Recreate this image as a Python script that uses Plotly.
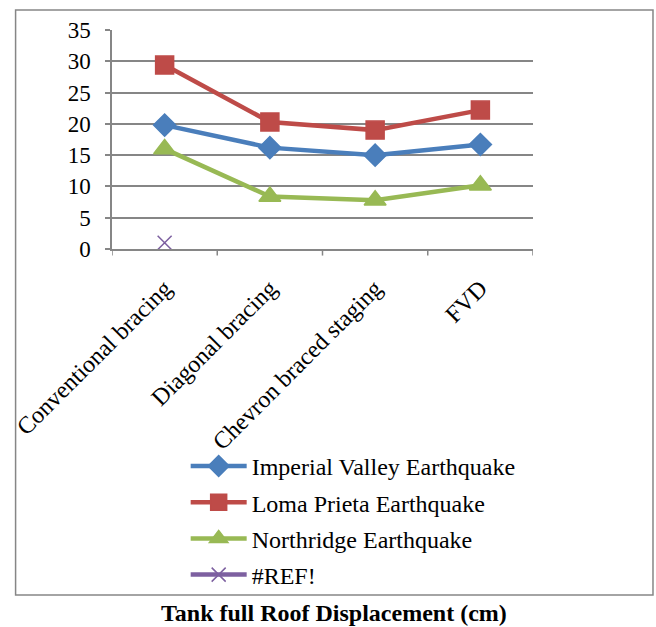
import plotly.graph_objects as go

categories = ["Conventional bracing", "Diagonal bracing", "Chevron braced staging", "FVD"]
imperial_valley = [19.8, 16.2, 15.0, 16.7]
loma_prieta = [29.4, 20.3, 19.0, 22.2]
northridge = [16.0, 8.4, 7.8, 10.2]
ref_series = [1.0, None, None, None]
y_ticks = [0, 5, 10, 15, 20, 25, 30, 35]

FONT = "Liberation Serif, Times New Roman, serif"
GRID = "#868686"

series = [
    ("Imperial Valley Earthquake", imperial_valley, "#4A7EBB", "diamond", 17),
    ("Loma Prieta Earthquake", loma_prieta, "#BE4B48", "square", 18),
    ("Northridge Earthquake", northridge, "#98B954", "triangle-up", 19),
    ("#REF!", ref_series, "#7D60A0", "x-thin", 14),
]

fig = go.Figure()
for i, (name, vals, color, sym, size) in enumerate(series):
    fig.add_trace(go.Scatter(
        x=list(range(len(categories))), y=vals, name=name,
        mode="lines+markers", legendgroup=f"g{i}",
        line=dict(color=color, width=4.5),
        marker=dict(symbol=sym, size=size, color=color,
                    line=dict(color=color, width=1.5)),
    ))

fig.update_layout(
    width=656, height=627,
    margin=dict(l=109, r=123, t=30, b=378),
    paper_bgcolor="white", plot_bgcolor="white",
    font=dict(family=FONT, size=23, color="black"),
    showlegend=True,
    legend=dict(x=0.175, y=-0.89, xanchor="left", yanchor="top",
                font=dict(family=FONT, size=24), tracegroupgap=2,
                itemwidth=56, bgcolor="rgba(0,0,0,0)"),
    xaxis=dict(
        range=[-0.5, 3.5], tickvals=list(range(len(categories))),
        ticktext=categories, tickangle=-45, showgrid=False,
        showline=True, linecolor=GRID, linewidth=1.5,
        ticks="", zeroline=False, ticklabelstandoff=14,
        tickfont=dict(family=FONT, size=24),
    ),
    yaxis=dict(
        range=[0, 35], tickvals=y_ticks, showgrid=True,
        gridcolor=GRID, gridwidth=1.5, showline=True,
        linecolor=GRID, linewidth=1.5, ticks="outside", ticklen=5,
        tickcolor=GRID, tickwidth=1.5, zeroline=False,
        ticklabelstandoff=10,
        tickfont=dict(family=FONT, size=23),
    ),
)

# category boundary tick marks along the x axis
for b in [-0.5, 0.5, 1.5, 2.5, 3.5]:
    fig.add_shape(type="line", xref="x", yref="paper", x0=b, x1=b,
                  y0=0, y1=-0.03, line=dict(color=GRID, width=1.5))

# chart frame
fig.add_shape(type="rect", xref="paper", yref="paper",
              x0=-0.229, x1=1.285, y0=-1.58, y1=1.091,
              line=dict(color=GRID, width=1.5), layer="below")

fig.add_annotation(text="<b>Tank full Roof Displacement (cm)</b>",
                   xref="paper", yref="paper", x=0.528, y=-1.66,
                   yanchor="middle", showarrow=False,
                   font=dict(family=FONT, size=24))

fig.write_html("out.html")
